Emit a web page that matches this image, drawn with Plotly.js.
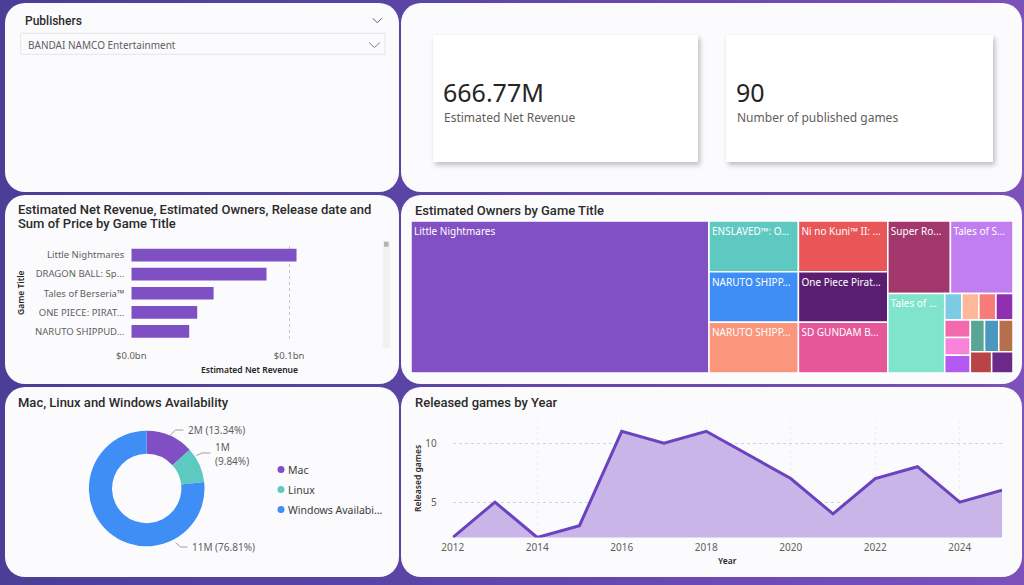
<!DOCTYPE html>
<html><head><meta charset="utf-8">
<script src="https://cdn.plot.ly/plotly-3.0.1.min.js"></script>
<style>
html,body{margin:0;padding:0;width:1024px;height:585px;overflow:hidden;}
body{background:linear-gradient(90deg,#4a3e96 0%,#5a45a5 40%,#6e4bb3 75%,#7c51ba 100%);position:relative;}
.panel{position:absolute;background:#fbfbfd;border-radius:20px;}
.card{position:absolute;background:#ffffff;box-shadow:2px 3px 5px rgba(0,0,0,0.25);}
#chart{position:absolute;left:0;top:0;width:1024px;height:585px;}
</style></head><body>
<div id="chart"></div>
<script>
// ---------------- DATA ----------------
const publisher = "BANDAI NAMCO Entertainment";
const kpiRevenueText = "666.77M";
const kpiGames = 90;

const barTitles = ["Little Nightmares", "DRAGON BALL: Sparking! ZERO", "Tales of Berseria™", "ONE PIECE: PIRATE WARRIORS 4", "NARUTO SHIPPUDEN: Ultimate Ninja STORM 4"];
const barTickLabels = ["Little Nightmares", "DRAGON BALL: Sp...", "Tales of Berseria™", "ONE PIECE: PIRAT...", "NARUTO SHIPPUD..."];
const barRevenue = [104700000, 85700000, 52150000, 41770000, 36700000];
const barTickVals = [0, 100000000];
const barTickText = ["$0.0bn", "$0.1bn"];

const treeTitles = ["Little Nightmares", "ENSLAVED™: Odyssey to the West Premium Edition", "NARUTO SHIPPUDEN: Ultimate Ninja STORM 4",
  "NARUTO SHIPPUDEN: Ultimate Ninja STORM Revolution", "Ni no Kuni™ II: Revenant Kingdom", "One Piece Pirate Warriors 3",
  "SD GUNDAM BATTLE ALLIANCE", "Super Robot Wars 30", "Tales of Symphonia", "Tales of Zestiria",
  "Game 11", "Game 12", "Game 13", "Game 14", "Game 15", "Game 16", "Game 17", "Game 18", "Game 19", "Game 20", "Game 21", "Game 22"];
const treeText = ["Little Nightmares", "ENSLAVED™: O...", "NARUTO SHIPP...", "NARUTO SHIPP...", "Ni no Kuni™ II: ...", "One Piece Pirat...",
  "SD GUNDAM B...", "Super Ro...", "Tales of S...", "Tales of ...", "", "", "", "", "", "", "", "", "", "", "", ""];
const treeOwners = [5000000, 500000, 500000, 500000, 500000, 500000, 500000, 500000, 500000, 500000,
  50000, 50000, 50000, 50000, 50000, 50000, 50000, 50000, 50000, 50000, 50000, 50000];
const treeColors = ["#8150c2", "#5ec9c0", "#3f8ef5", "#f9967b", "#e85658", "#5a1e70", "#e6579a", "#a2376e", "#c07ef0", "#80e4cd",
  "#7ccbe6", "#fdb899", "#f77b78", "#9030b0", "#f26bae", "#f883da", "#b35af2", "#58a696", "#4a97c0", "#b56f4d", "#b84446", "#6b2a8a"];

const platforms = ["Mac", "Linux", "Windows Availability"];
const platformOwners = [1905500, 1405700, 10968800];
const platformColors = ["#7f4fc3", "#5ccac0", "#3f8ef6"];

const years = [2012, 2013, 2014, 2015, 2016, 2017, 2018, 2019, 2020, 2021, 2022, 2023, 2024, 2025];
const releasedGames = [2, 5, 2, 3, 11, 10, 11, 9, 7, 4, 7, 8, 5, 6];
const yearTicks = [2012, 2014, 2016, 2018, 2020, 2022, 2024];
const releasedTicks = [5, 10];

// ---------------- LAYOUT HELPERS ----------------
const W = 1024, H = 585;
const X = p => p / W, Y = p => 1 - p / H;

const panels = [[5, 3, 399, 192], [401, 3, 1022, 192], [5, 195, 399, 384], [401, 195, 1022, 384], [5, 387, 399, 577], [401, 387, 1022, 577]];
panels.forEach(p => {
  const d = document.createElement('div'); d.className = 'panel';
  d.style.left = p[0] + 'px'; d.style.top = p[1] + 'px'; d.style.width = (p[2] - p[0]) + 'px'; d.style.height = (p[3] - p[1]) + 'px';
  document.body.insertBefore(d, document.getElementById('chart'));
});
[[433, 35, 698, 162], [726, 35, 993, 162]].forEach(p => {
  const d = document.createElement('div'); d.className = 'card';
  d.style.left = p[0] + 'px'; d.style.top = p[1] + 'px'; d.style.width = (p[2] - p[0]) + 'px'; d.style.height = (p[3] - p[1]) + 'px';
  document.body.insertBefore(d, document.getElementById('chart'));
});

const TITLE_FONT = 'Roboto, "Noto Sans", sans-serif';
const LABEL_FONT = '"Noto Sans", "Open Sans", sans-serif';
const ann = [];
function txt(x, y, text, size, color, opts) {
  ann.push(Object.assign({xref: 'paper', yref: 'paper', x: X(x), y: Y(y), text: text, showarrow: false,
    xanchor: 'left', yanchor: 'middle', font: {family: LABEL_FONT, size: size, color: color}}, opts || {}));
}
function title(x, y, text) {
  ann.push({xref: 'paper', yref: 'paper', x: X(x), y: Y(y), text: text, showarrow: false, xanchor: 'left', yanchor: 'middle',
    font: {family: TITLE_FONT, size: 13, color: '#2b2a29', weight: 500}});
}

// Panel titles
txt(23, 21, "Publishers", 12, '#252423', {font: {family: TITLE_FONT, size: 12, color: '#2b2a29', weight: 500}});
txt(26, 45, publisher, 10, '#605E5C');
title(16, 209, "Estimated Net Revenue, Estimated Owners, Release date and");
title(16, 224, "Sum of Price by Game Title");
title(413, 210, "Estimated Owners by Game Title");
title(16, 402, "Mac, Linux and Windows Availability");
title(413, 402, "Released games by Year");

// KPIs
txt(441, 92, kpiRevenueText, 25, '#252423', {font: {family: '"Noto Sans", sans-serif', size: 25, color: '#252423'}});
txt(442, 118, "Estimated Net Revenue", 12, '#605E5C');
txt(734, 92, String(kpiGames), 25, '#252423', {font: {family: '"Noto Sans", sans-serif', size: 25, color: '#252423'}});
txt(735, 118, "Number of published games", 12, '#605E5C');

// Axis titles
txt(249.7, 369, "Estimated Net Revenue", 8.5, '#252423', {xanchor: 'center', font: {family: LABEL_FONT, size: 8.5, color: '#252423', weight: 600}});
txt(20, 293, "Game Title", 8.5, '#252423', {xanchor: 'center', textangle: -90, font: {family: LABEL_FONT, size: 8.5, color: '#252423', weight: 600}});
txt(727, 560, "Year", 8.5, '#252423', {xanchor: 'center', font: {family: LABEL_FONT, size: 8.5, color: '#252423', weight: 600}});
txt(417, 479, "Released games", 8.5, '#252423', {xanchor: 'center', textangle: -90, font: {family: LABEL_FONT, size: 8.5, color: '#252423', weight: 600}});

// Donut labels
const totalOwners = platformOwners.reduce((a, b) => a + b, 0);
const pct = v => (v / totalOwners * 100).toFixed(2) + '%';
const mil = v => Math.round(v / 1e6) + 'M';
txt(186, 430, mil(platformOwners[0]) + ' (' + pct(platformOwners[0]) + ')', 10, '#605E5C');
txt(213, 447, mil(platformOwners[1]), 10, '#605E5C');
txt(213, 460.5, '(' + pct(platformOwners[1]) + ')', 10, '#605E5C');
txt(190, 547, mil(platformOwners[2]) + ' (' + pct(platformOwners[2]) + ')', 10, '#605E5C');

// Legend
const trunc = (s, n) => s.length > n ? s.slice(0, n) + '...' : s;
const legendY = [469.5, 489.5, 509.5];
platforms.forEach((p, i) => txt(286, legendY[i], trunc(p, 16), 10.5, '#3b3a39'));

const shapes = [];
// chevrons
function chevron(cx, cy, w, h, color) {
  shapes.push({type: 'path', xref: 'paper', yref: 'paper',
    path: `M ${X(cx - w / 2)},${Y(cy - h / 2)} L ${X(cx)},${Y(cy + h / 2)} L ${X(cx + w / 2)},${Y(cy - h / 2)}`,
    line: {color: color, width: 1}});
}
chevron(377.3, 20.5, 9, 4.5, '#605E5C');
chevron(374.5, 45, 11, 5, '#8a8886');
// dropdown box
shapes.push({type: 'rect', xref: 'paper', yref: 'paper', x0: X(20.7), x1: X(385), y0: Y(54.3), y1: Y(33.3), line: {color: '#e6e6e6', width: 1}, fillcolor: 'rgba(0,0,0,0)'});
// scroll bar
shapes.push({type: 'rect', xref: 'paper', yref: 'paper', x0: X(382.7), x1: X(390), y0: Y(348.3), y1: Y(241.7), line: {width: 0}, fillcolor: '#f2f2f2'});
shapes.push({type: 'rect', xref: 'paper', yref: 'paper', x0: X(384), x1: X(388.5), y0: Y(246.7), y1: Y(241.7), line: {width: 0}, fillcolor: '#b3b3b3'});
// leader lines
function poly(pts) {
  shapes.push({type: 'path', xref: 'paper', yref: 'paper', path: 'M ' + pts.map(p => X(p[0]) + ',' + Y(p[1])).join(' L '), line: {color: '#a19f9d', width: 1}});
}
poly([[170, 435.5], [175.5, 430], [183.5, 430]]);
poly([[196.5, 455.5], [202, 453], [210.5, 453]]);
poly([[175.5, 542.5], [180.5, 547], [187.5, 547]]);
// legend dots
legendY.forEach((y, i) => shapes.push({type: 'circle', xref: 'paper', yref: 'paper', x0: X(277.5), x1: X(284.5), y0: Y(y + 3.5), y1: Y(y - 3.5), line: {width: 0}, fillcolor: platformColors[i]}));

// ---------------- TRACES ----------------
const traces = [
  {type: 'bar', orientation: 'h', x: barRevenue, y: barTitles, xaxis: 'x', yaxis: 'y', marker: {color: '#7f4fc4'}, hoverinfo: 'none'},
  {type: 'treemap', ids: treeTitles, labels: treeTitles, parents: treeTitles.map(() => ''), values: treeOwners, text: treeText,
    texttemplate: '%{text}', textposition: 'top left', sort: true, branchvalues: 'remainder',
    tiling: {packing: 'squarify', squarifyratio: 1.618, pad: 0},
    pathbar: {visible: false},
    marker: {colors: treeColors, line: {color: '#ffffff', width: 1.5}, pad: {t: 0, l: 0, r: 0, b: 0}},
    textfont: {family: LABEL_FONT, size: 10, color: '#ffffff'},
    domain: {x: [X(411), X(1013)], y: [Y(373), Y(221)]}, hoverinfo: 'none'},
  {type: 'pie', labels: platforms, values: platformOwners, hole: 0.6, sort: false, direction: 'clockwise', rotation: 0,
    marker: {colors: platformColors, line: {width: 0}}, textinfo: 'none', hoverinfo: 'none',
    domain: {x: [X(146.7 - 57.8), X(146.7 + 57.8)], y: [Y(488.5 + 57.8), Y(488.5 - 57.8)]}},
  {type: 'scatter', mode: 'lines', x: years, y: releasedGames, xaxis: 'x2', yaxis: 'y2', fill: 'tozeroy',
    fillcolor: '#c9b5e7', line: {color: '#6a43be', width: 3}, hoverinfo: 'none', cliponaxis: true}
];

const layout = {
  width: W, height: H, margin: {l: 0, r: 0, t: 0, b: 0}, paper_bgcolor: 'rgba(0,0,0,0)', plot_bgcolor: 'rgba(0,0,0,0)',
  showlegend: false, font: {family: LABEL_FONT, color: '#605E5C'},
  xaxis: {domain: [X(131.3), X(368)], range: [0, 150000000], anchor: 'y', tickvals: barTickVals, ticktext: barTickText,
    showgrid: true, gridcolor: '#c8c6c4', griddash: 'dot', zeroline: false, showline: false, ticks: '',
    tickfont: {size: 9.5, color: '#605E5C'}, ticklabelstandoff: 7},
  yaxis: {domain: [Y(341), Y(245.5)], anchor: 'x', type: 'category', autorange: 'reversed', showgrid: false, zeroline: false,
    ticks: '', tickvals: barTitles, ticktext: barTickLabels, tickfont: {size: 9.5, color: '#605E5C'}, ticklabelstandoff: 6},
  bargap: 0.335,
  xaxis2: {domain: [X(452.7), X(1002)], range: [2012, 2025], anchor: 'y2', tickvals: yearTicks, showgrid: true,
    gridcolor: '#efeeed', griddash: 'dot', zeroline: false, showline: false, ticks: '', tickfont: {size: 10, color: '#605E5C'}, ticklabelstandoff: 2},
  yaxis2: {domain: [Y(537.5), Y(419.5)], range: [2, 12], anchor: 'x2', tickvals: releasedTicks, showgrid: true,
    gridcolor: '#d6d4d2', griddash: 'dot', zeroline: false, showline: false, ticks: '', tickfont: {size: 10, color: '#605E5C'}, ticklabelstandoff: 15},
  annotations: ann,
  shapes: shapes
};

Plotly.newPlot('chart', traces, layout, {staticPlot: true, displayModeBar: false});
</script></body></html>
